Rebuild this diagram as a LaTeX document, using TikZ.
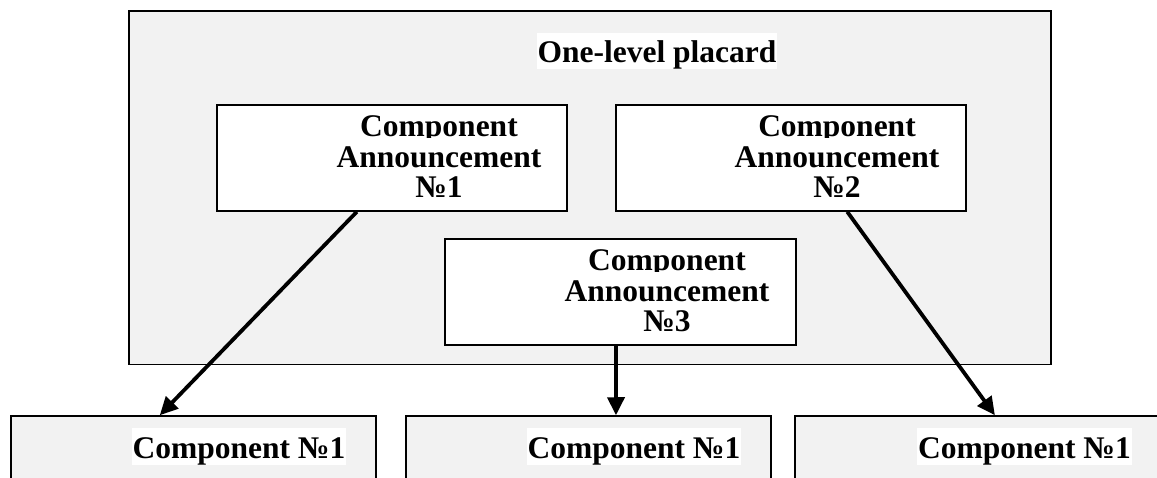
\documentclass[tikz,border=0pt]{standalone}
\usepackage{fontspec}
\setmainfont{Liberation Serif}
\usetikzlibrary{arrows.meta,calc}
\definecolor{panelgrey}{RGB}{242,242,242}
\begin{document}
\begin{tikzpicture}[x=1pt,y=-1pt,
  panel/.style={draw, fill=panelgrey, line width=1.6pt, inner sep=0pt},
  annbox/.style={draw, fill=white, line width=1.5pt, inner sep=0pt, minimum width=350pt, minimum height=106pt},
  compbox/.style={draw, fill=panelgrey, line width=1.5pt, inner sep=0pt, minimum width=365pt, minimum height=84pt},
  lbl/.style={font=\fontsize{31.5}{31.5}\selectfont\bfseries, fill=white, inner xsep=1pt, inner ysep=0pt, text height=30pt, text depth=6.5pt, anchor=base},
  conn/.style={line width=3.8pt, -{Triangle[length=18pt,width=17pt]}}]
\useasboundingbox (0,0) rectangle (1157,478);
\clip (0,0) rectangle (1157,478);
\fill[white] (0,0) rectangle (1157,478);
% outer panel
\node[panel, minimum width=922pt, minimum height=353.5pt] (placard) at (590,187.75) {};
\node[lbl] (title) at (657,63) {One-level placard};
% announcement boxes
\node[annbox] (a1) at (392,158) {};
\node[annbox] (a2) at (791,158) {};
\node[annbox, minimum width=351pt] (a3) at (620.5,292) {};
\node[lbl] (a1l1) at (439,137) {Component};
\node[lbl] (a1l2) at (439,168) {Announcement};
\node[lbl] (a1l3) at (439,198) {№1};
\node[lbl] (a2l1) at (837,137) {Component};
\node[lbl] (a2l2) at (837,168) {Announcement};
\node[lbl] (a2l3) at (837,198) {№2};
\node[lbl] (a3l1) at (667,271) {Component};
\node[lbl] (a3l2) at (667,302) {Announcement};
\node[lbl] (a3l3) at (667,332) {№3};
% component boxes
\node[compbox] (c1) at (193.5,458) {};
\node[compbox] (c2) at (588.5,458) {};
\node[compbox, minimum width=366pt] (c3) at (978,458) {};
\node[lbl] (c1l) at (239,458) {Component №1};
\node[lbl] (c2l) at (634,458) {Component №1};
\node[lbl] (c3l) at (1024.5,458) {Component №1};
% connectors
\draw[conn] ($(a1.south west)!0.4!(a1.south east)$) -- ($(c1.north west)!0.408!(c1.north east)$);
\draw[conn] ($(a3.south west)!0.487!(a3.south east)$) -- ($(c2.north west)!0.575!(c2.north east)$);
\draw[conn] ($(a2.south west)!0.66!(a2.south east)$) -- ($(c3.north west)!0.546!(c3.north east)$);
\end{tikzpicture}
\end{document}
